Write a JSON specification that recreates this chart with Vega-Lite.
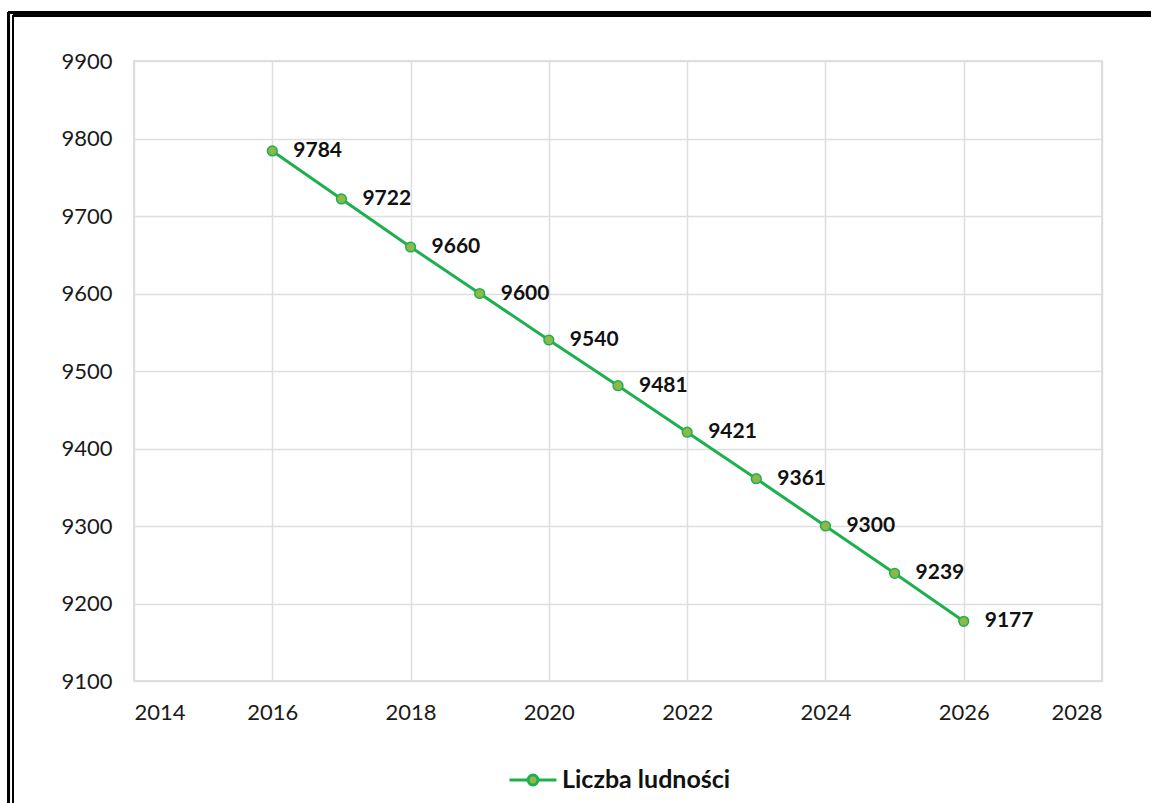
{
  "$schema": "https://vega.github.io/schema/vega-lite/v6.json",
  "width": 968,
  "height": 620,
  "autosize": {"type": "none"},
  "padding": {"left": 134, "top": 61, "right": 49, "bottom": 122},
  "background": "white",
  "config": {
    "view": {"stroke": "#d4d4d4", "strokeWidth": 1.5},
    "font": "Lato"
  },
  "data": {
    "values": [
      {"rok": 2016, "ludnosc": 9784, "seria": "Liczba ludności"},
      {"rok": 2017, "ludnosc": 9722, "seria": "Liczba ludności"},
      {"rok": 2018, "ludnosc": 9660, "seria": "Liczba ludności"},
      {"rok": 2019, "ludnosc": 9600, "seria": "Liczba ludności"},
      {"rok": 2020, "ludnosc": 9540, "seria": "Liczba ludności"},
      {"rok": 2021, "ludnosc": 9481, "seria": "Liczba ludności"},
      {"rok": 2022, "ludnosc": 9421, "seria": "Liczba ludności"},
      {"rok": 2023, "ludnosc": 9361, "seria": "Liczba ludności"},
      {"rok": 2024, "ludnosc": 9300, "seria": "Liczba ludności"},
      {"rok": 2025, "ludnosc": 9239, "seria": "Liczba ludności"},
      {"rok": 2026, "ludnosc": 9177, "seria": "Liczba ludności"}
    ]
  },
  "encoding": {
    "x": {
      "field": "rok",
      "type": "quantitative",
      "scale": {"domain": [2014, 2028], "nice": false, "zero": false},
      "axis": {
        "title": null,
        "values": [2014, 2016, 2018, 2020, 2022, 2024, 2026, 2028],
        "format": "d",
        "ticks": false,
        "domain": false,
        "grid": true,
        "gridColor": "#dedede",
        "gridWidth": 1.5,
        "labelFont": "Lato",
        "labelFontSize": 22,
        "labelColor": "#1a1a1a",
        "labelPadding": 21
      }
    },
    "y": {
      "field": "ludnosc",
      "type": "quantitative",
      "scale": {"domain": [9100, 9900], "nice": false, "zero": false},
      "axis": {
        "title": null,
        "values": [9100, 9200, 9300, 9400, 9500, 9600, 9700, 9800, 9900],
        "format": "d",
        "ticks": false,
        "domain": false,
        "grid": true,
        "gridColor": "#dedede",
        "gridWidth": 1.5,
        "labelFont": "Lato",
        "labelFontSize": 22,
        "labelColor": "#1a1a1a",
        "labelPadding": 22
      }
    }
  },
  "layer": [
    {
      "mark": {"type": "line", "strokeWidth": 3},
      "encoding": {
        "color": {
          "field": "seria",
          "type": "nominal",
          "scale": {"range": ["#1db04e"]},
          "legend": {
            "orient": "none",
            "legendX": 374,
            "legendY": 694,
            "title": null,
            "symbolType": "M-1,0H-0.21A0.21,0.21 0 1,1 0.21,0A0.21,0.21 0 1,1 -0.21,0M0.21,0H1",
            "symbolSize": 2209,
            "symbolFillColor": "#8db84a",
            "symbolStrokeColor": "#1db04e",
            "symbolStrokeWidth": 3,
            "labelFont": "Lato",
            "labelFontSize": 25,
            "labelFontWeight": "bold",
            "labelColor": "#111111",
            "labelOffset": 4,
            "labelLimit": 500
          }
        }
      }
    },
    {
      "mark": {"type": "point", "filled": true, "fill": "#8db84a", "stroke": "#1db04e", "strokeWidth": 1.5, "size": 95, "opacity": 1}
    },
    {
      "mark": {"type": "text", "align": "left", "baseline": "middle", "dx": 21, "font": "Lato", "fontSize": 21, "fontWeight": "bold", "color": "#111111"},
      "encoding": {"text": {"field": "ludnosc", "type": "quantitative", "format": "d"}}
    },
    {
      "mark": {"type": "rule", "color": "black", "strokeWidth": 3, "clip": false},
      "encoding": {
        "x": {"datum": 2012.185, "type": "quantitative"},
        "y": {"datum": 9962.6, "type": "quantitative"},
        "y2": {"datum": 8900}
      }
    },
    {
      "mark": {"type": "rule", "color": "black", "strokeWidth": 2, "clip": false},
      "encoding": {
        "x": {"datum": 2012.25, "type": "quantitative"},
        "y": {"datum": 9958.3, "type": "quantitative"},
        "y2": {"datum": 8900}
      }
    },
    {
      "mark": {"type": "rule", "color": "black", "strokeWidth": 3, "clip": false},
      "encoding": {
        "y": {"datum": 9962.6, "type": "quantitative"},
        "x": {"datum": 2012.185, "type": "quantitative"},
        "x2": {"datum": 2030}
      }
    },
    {
      "mark": {"type": "rule", "color": "black", "strokeWidth": 2, "clip": false},
      "encoding": {
        "y": {"datum": 9958.3, "type": "quantitative"},
        "x": {"datum": 2012.25, "type": "quantitative"},
        "x2": {"datum": 2030}
      }
    }
  ]
}
